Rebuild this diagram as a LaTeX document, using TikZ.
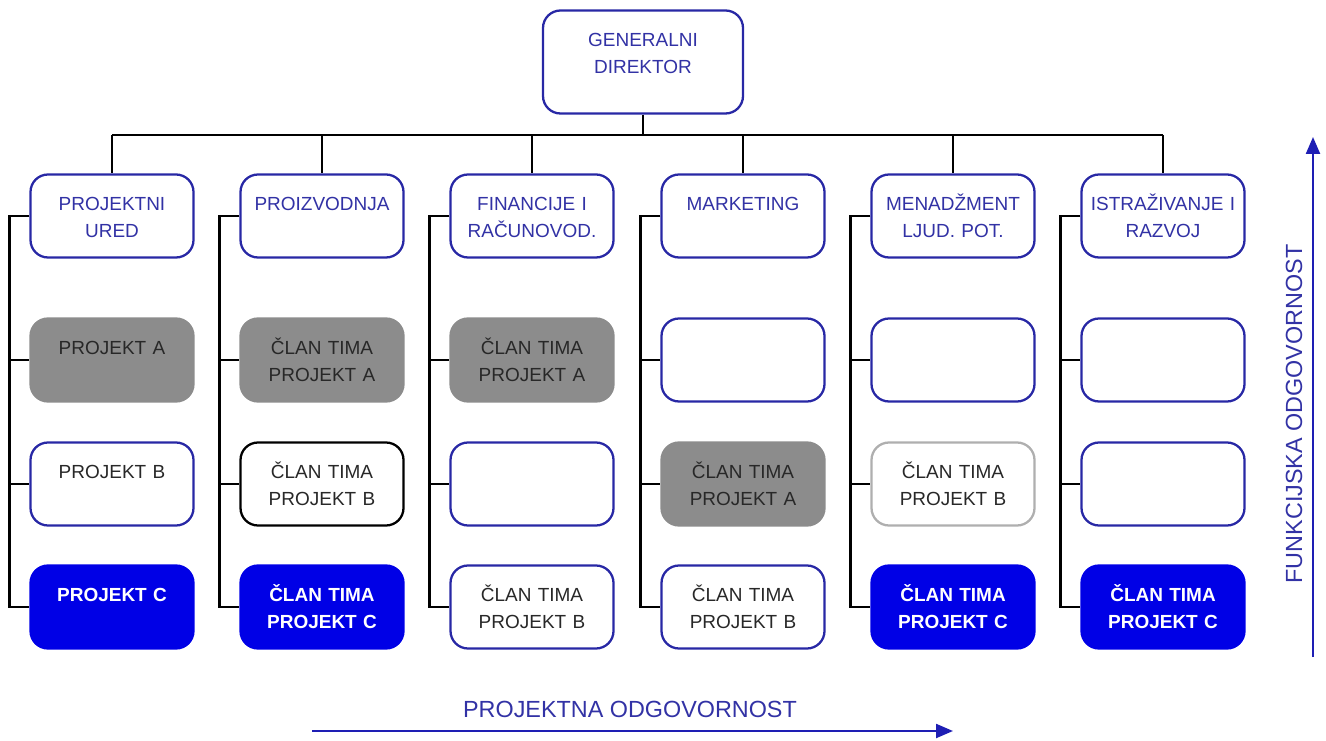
\documentclass[tikz,border=0pt]{standalone}
\usepackage{fontspec}
\setmainfont{Liberation Sans}
\usepackage{tikz}
\usetikzlibrary{arrows.meta,calc,positioning}
\definecolor{rub}{RGB}{40,40,165}
\definecolor{plavitxt}{RGB}{50,50,165}
\definecolor{sivo}{RGB}{140,140,140}
\definecolor{tamno}{RGB}{40,40,40}
\definecolor{plavo}{RGB}{0,0,230}
\definecolor{svijetlo}{RGB}{175,175,175}
\definecolor{strelica}{RGB}{30,30,180}
\tikzset{%
	cell/.style     = {rectangle, rounded corners=0.35cm, line width=1.3pt, minimum width=3.26cm, minimum height=1.66cm, text width=3cm, align=center, inner sep=0pt, text height=0.72cm, text depth=0.94cm, font=\fontsize{10.8}{15.4}\selectfont},
	chief/.style    = {cell, draw=rub, fill=white, text=plavitxt, minimum width=4cm, text width=3.6cm, text depth=1.34cm},
	dept/.style     = {cell, draw=rub, fill=white, text=plavitxt},
	greybox/.style  = {cell, draw=sivo, fill=sivo, text=tamno},
	whitebox/.style = {cell, draw=rub, fill=white, text=tamno},
	bluebox/.style  = {cell, draw=plavo, fill=plavo, text=white, font=\fontsize{10.8}{15.4}\selectfont\bfseries},
	link/.style     = {line width=1.5pt, black},
	arrow/.style    = {line width=1.3pt, strelica, -{Triangle[length=0.34cm,width=0.28cm]}},
	axislabel/.style= {text=plavitxt, font=\fontsize{13.3}{16}\selectfont},
}
\begin{document}
\begin{tikzpicture}
		\useasboundingbox (0,0) rectangle (26.52,14.8);
		\node[chief] (gd) at (12.86,13.56) {GENERALNI\\DIREKTOR};
		
		% odjeli
		\node[dept] (c1) at (2.24,10.48) {PROJEKTNI\\URED};
		\node[dept] (c2) at (6.44,10.48) {PROIZVODNJA};
		\node[dept] (c3) at (10.64,10.48) {FINANCIJE I\\RAČUNOVOD.};
		\node[dept] (c4) at (14.86,10.48) {MARKETING};
		\node[dept] (c5) at (19.06,10.48) {MENADŽMENT\\LJUD. POT.};
		\node[dept] (c6) at (23.26,10.48) {ISTRAŽIVANJE I\\RAZVOJ};
		
		% projekti
		\node[greybox]  (c1a) at (2.24,7.6) {PROJEKT A};
		\node[whitebox] (c1b) at (2.24,5.12) {PROJEKT B};
		\node[bluebox]  (c1c) at (2.24,2.66) {PROJEKT C};
		
		\node[greybox]  (c2a) at (6.44,7.6) {ČLAN TIMA\\PROJEKT A};
		\node[whitebox, draw=black] (c2b) at (6.44,5.12) {ČLAN TIMA\\PROJEKT B};
		\node[bluebox]  (c2c) at (6.44,2.66) {ČLAN TIMA\\PROJEKT C};
		
		\node[greybox]  (c3a) at (10.64,7.6) {ČLAN TIMA\\PROJEKT A};
		\node[whitebox] (c3b) at (10.64,5.12) {};
		\node[whitebox] (c3c) at (10.64,2.66) {ČLAN TIMA\\PROJEKT B};
		
		\node[whitebox] (c4a) at (14.86,7.6) {};
		\node[greybox]  (c4b) at (14.86,5.12) {ČLAN TIMA\\PROJEKT A};
		\node[whitebox] (c4c) at (14.86,2.66) {ČLAN TIMA\\PROJEKT B};
		
		\node[whitebox] (c5a) at (19.06,7.6) {};
		\node[whitebox, draw=svijetlo] (c5b) at (19.06,5.12) {ČLAN TIMA\\PROJEKT B};
		\node[bluebox]  (c5c) at (19.06,2.66) {ČLAN TIMA\\PROJEKT C};
		
		\node[whitebox] (c6a) at (23.26,7.6) {};
		\node[whitebox] (c6b) at (23.26,5.12) {};
		\node[bluebox]  (c6c) at (23.26,2.66) {ČLAN TIMA\\PROJEKT C};
		
		% veze
		\coordinate (bus) at (0,12.1);
		\draw[link] (gd.south) -- (gd.south |- bus);
		\draw[link] (c1.north |- bus) -- (c6.north |- bus);
		\foreach \i in {1,...,6} {
			\draw[link] (c\i.north |- bus) -- (c\i.north);
			\draw[link] (c\i.west) -- ++(-0.4,0) coordinate (s\i) |- (c\i c.west);
			\draw[link] (s\i |- c\i a.west) -- (c\i a.west);
			\draw[link] (s\i |- c\i b.west) -- (c\i b.west);
		}
		
		% odgovornosti
		\coordinate (p0) at (6.24,0.18);
		\coordinate (p1) at (19.06,0.18);
		\draw[arrow] (p0) -- (p1);
		\node[axislabel] (pl) at (12.6,0.62) {PROJEKTNA ODGOVORNOST};
		
		\coordinate (f0) at (26.26,1.66);
		\coordinate (f1) at (26.26,12.06);
		\draw[arrow] (f0) -- (f1);
		\node[axislabel, rotate=90] (fl) at (25.88,6.52) {FUNKCIJSKA ODGOVORNOST};
		
	\end{tikzpicture}
\end{document}
